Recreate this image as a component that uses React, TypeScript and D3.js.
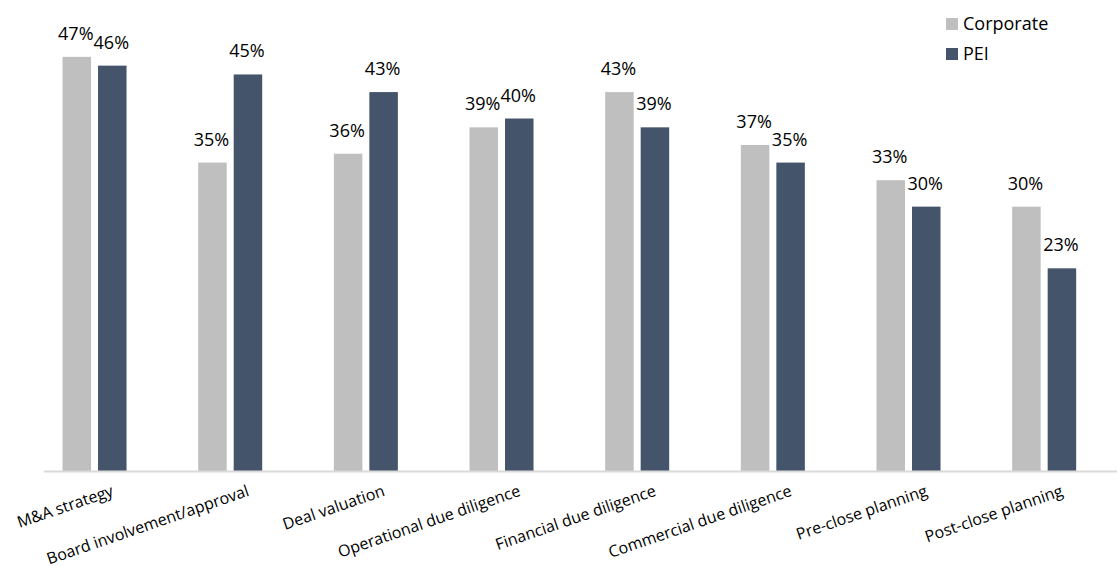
import React from "react";
import * as d3 from "d3";

const categories = [
  "M&A strategy",
  "Board involvement/approval",
  "Deal valuation",
  "Operational due diligence",
  "Financial due diligence",
  "Commercial due diligence",
  "Pre-close planning",
  "Post-close planning",
];
const corporate = [47, 35, 36, 39, 43, 37, 33, 30];
const pei = [46, 45, 43, 40, 39, 35, 30, 23];
const seriesNames = ["Corporate", "PEI"];
const colors = ["#BFBFBF", "#44546A"];

const W = 1118;
const H = 566;
const FONT = "'Open Sans', 'Noto Sans', sans-serif";

export default function App() {
  const x = d3.scaleBand<string>().domain(categories).range([26.7, 1112]);
  const y = d3.scaleLinear().domain([0, 50]).range([471, 30.4]);
  const barW = 28.5;
  const gap = 7;
  const series = [corporate, pei];

  return (
    <svg
      width={W}
      height={H}
      style={{ position: "absolute", left: 0, top: 0, background: "#fff" }}
      fontFamily={FONT}
    >
      {categories.map((c, i) => {
        const cx = (x(c) as number) + x.bandwidth() / 2;
        return (
          <g key={c}>
            {series.map((s, k) => {
              const bx = k === 0 ? cx - gap / 2 - barW : cx + gap / 2;
              const v = s[i];
              return (
                <g key={k}>
                  <rect
                    x={bx}
                    y={y(v)}
                    width={barW}
                    height={y(0) - y(v)}
                    fill={colors[k]}
                  />
                  <text
                    x={bx + barW / 2 - 1}
                    y={y(v) - 17}
                    textAnchor="middle"
                    fontSize={18}
                    fill="#000"
                  >
                    {v}%
                  </text>
                </g>
              );
            })}
            <text
              transform={`translate(${cx + 16},${484}) rotate(-19)`}
              textAnchor="end"
              dy="0.75em"
              fontSize={16}
              fill="#000"
            >
              {c}
            </text>
          </g>
        );
      })}
      <line x1={44} x2={1117} y1={471.5} y2={471.5} stroke="#D9D9D9" strokeWidth={2} />
      {seriesNames.map((n, k) => (
        <g key={n}>
          <rect x={946} y={18 + k * 30} width={12} height={12} fill={colors[k]} />
          <text x={963} y={30 + k * 30} fontSize={18} fill="#000">
            {n}
          </text>
        </g>
      ))}
    </svg>
  );
}
